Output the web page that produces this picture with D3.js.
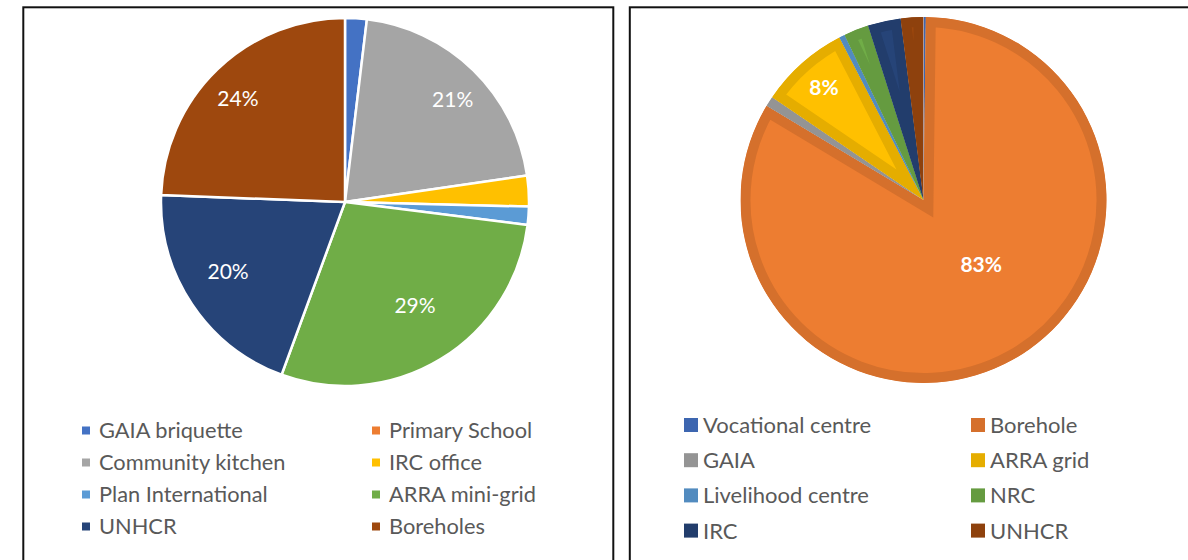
<!DOCTYPE html>
<html>
<head>
<meta charset="utf-8">
<script src="https://cdn.jsdelivr.net/npm/d3@7"></script>
<style>
  body { margin: 0; background: #fff; }
  text { font-family: Lato, "Open Sans", sans-serif; }
</style>
</head>
<body>
<svg id="chart" width="1188" height="560"></svg>
<script>
// left pie: consumers
const leftCategories = ["GAIA briquette", "Primary School", "Community kitchen", "IRC office",
  "Plan International", "ARRA mini-grid", "UNHCR", "Boreholes"];
const leftValues = [1.9, 0, 20.8, 2.7, 1.6, 28.6, 20.0, 24.4];

// right pie: consumers
const rightCategories = ["Vocational centre", "Borehole", "GAIA", "ARRA grid",
  "Livelihood centre", "NRC", "IRC", "UNHCR"];
const rightValues = [0.2, 83.4, 0.9, 7.9, 0.5, 2.2, 2.9, 2.0];

// office palette, same order for both
const palette = ["#4472C4", "#ED7D31", "#A5A5A5", "#FFC000", "#5B9BD5", "#70AD47", "#264478", "#9E480E"];

// label placement (radius fraction, angle nudge in degrees), like excel's best fit
const leftLabelPos = {"Community kitchen": [0.81, 2], "ARRA mini-grid": [0.68, -2.7], "UNHCR": [0.74, 3], "Boreholes": [0.81, -2]};
const rightLabelPos = {"Borehole": [0.474, -12.5], "ARRA grid": [0.82, 0]};

const svg = d3.select("#chart");

// panel frames (they run off the bottom / right of the picture)
svg.append("rect").attr("x", 23.3).attr("y", 7.3).attr("width", 590).attr("height", 600)
  .attr("fill", "none").attr("stroke", "#111").attr("stroke-width", 2);
svg.append("rect").attr("x", 629.8).attr("y", 7.3).attr("width", 620).attr("height", 600)
  .attr("fill", "none").attr("stroke", "#111").attr("stroke-width", 2);

const pie = d3.pie().sort(null).value(d => d.value);

function drawPie(cfg) {
  const data = cfg.categories.map((c, i) => ({name: c, value: cfg.values[i], color: palette[i], idx: i}));
  const total = d3.sum(data, d => d.value);
  const arcs = pie(data);
  const arc = d3.arc().innerRadius(0).outerRadius(cfg.r);
  const g = svg.append("g").attr("transform", `translate(${cfg.cx},${cfg.cy})`);

  const shown = arcs.filter(d => d.data.value > 0);

  if (cfg.inset) {
    // darker inner rim on each slice, clipped to the slice
    const defs = svg.append("defs");
    shown.forEach(d => {
      defs.append("clipPath").attr("id", cfg.id + "-clip-" + d.data.idx)
        .append("path").attr("d", arc(d));
    });
    g.selectAll("path.slice").data(shown).join("path")
      .attr("class", "slice")
      .attr("d", arc)
      .attr("fill", d => d.data.color)
      .attr("stroke", d => d3.color(d.data.color).darker(0.3))
      .attr("stroke-width", 20)
      .attr("stroke-linejoin", "miter")
      .attr("clip-path", d => `url(#${cfg.id}-clip-${d.data.idx})`);
  } else {
    g.selectAll("path.slice").data(shown).join("path")
      .attr("class", "slice")
      .attr("d", arc)
      .attr("fill", d => d.data.color)
      .attr("stroke", "#fff")
      .attr("stroke-width", 2.5)
      .attr("stroke-linejoin", "round");
  }

  // percentage labels, only for the bigger slices
  const big = shown.filter(d => d.data.value / total >= 0.05);
  g.selectAll("text.pct").data(big).join("text")
    .attr("class", "pct")
    .attr("transform", d => {
      const p = cfg.labelPos[d.data.name] || [0.75, 0];
      const lr = cfg.r * p[0];
      const a = (d.startAngle + d.endAngle) / 2 + p[1] * Math.PI / 180;
      return `translate(${Math.sin(a) * lr},${-Math.cos(a) * lr})`;
    })
    .attr("text-anchor", "middle")
    .attr("dy", "0.36em")
    .attr("fill", "#fff")
    .attr("font-size", cfg.labelSize)
    .attr("font-weight", cfg.bold ? "bold" : "normal")
    .text(d => Math.round(d.data.value / total * 100) + "%");

  // legend, two columns
  const lg = svg.append("g");
  const item = lg.selectAll("g").data(data).join("g")
    .attr("transform", (d, i) => `translate(${cfg.legX[i % 2]},${cfg.legY + Math.floor(i / 2) * cfg.legStep})`);
  item.append("rect")
    .attr("x", 0).attr("y", -cfg.box / 2)
    .attr("width", cfg.box).attr("height", cfg.box)
    .attr("fill", d => cfg.inset ? d3.color(d.color).darker(0.3) : d.color);
  item.append("text")
    .attr("x", cfg.textGap)
    .attr("dy", "0.36em")
    .attr("fill", "#595959")
    .attr("font-size", cfg.legSize)
    .text(d => d.name);
}

drawPie({
  id: "left", cx: 345, cy: 202, r: 184,
  categories: leftCategories, values: leftValues,
  labelPos: leftLabelPos, labelSize: 21, bold: false, inset: false,
  legX: [82, 372], legY: 430.5, legStep: 32, box: 8, textGap: 17, legSize: 21.8
});

drawPie({
  id: "right", cx: 923.5, cy: 200, r: 183,
  categories: rightCategories, values: rightValues,
  labelPos: rightLabelPos, labelSize: 21, bold: true, inset: true,
  legX: [684, 971], legY: 425, legStep: 35.2, box: 14, textGap: 19, legSize: 22
});
</script>
</body>
</html>
